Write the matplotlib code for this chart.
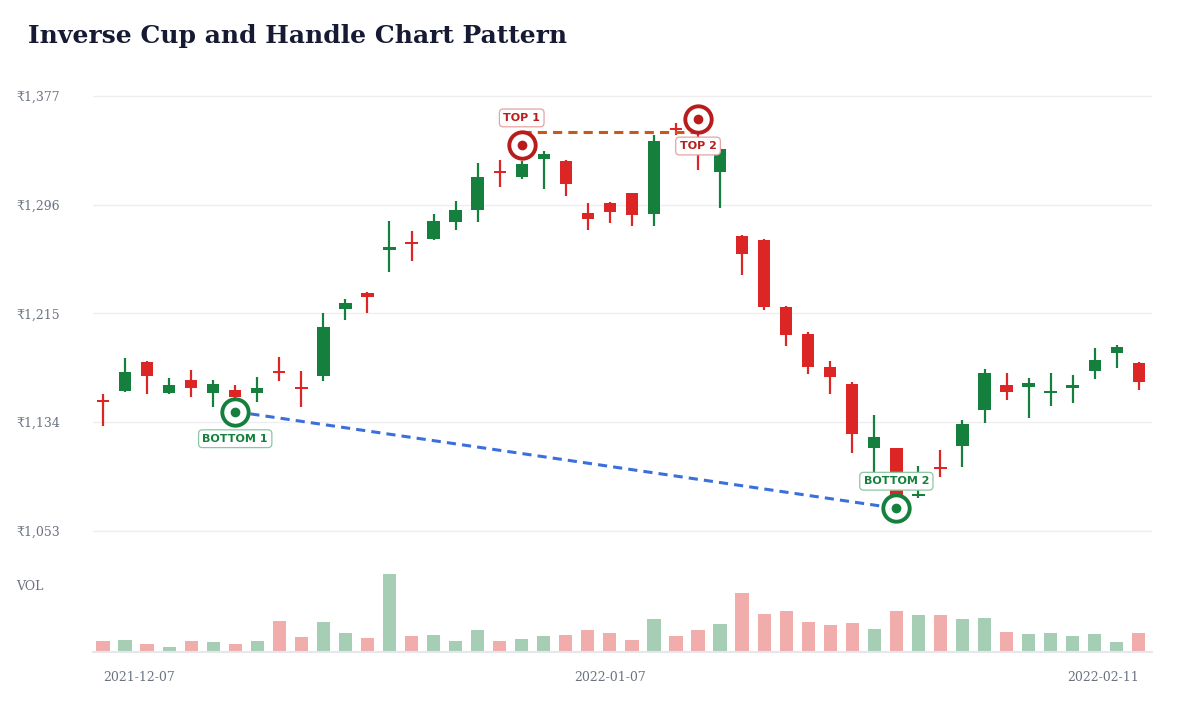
import matplotlib
matplotlib.use('Agg')
import matplotlib.pyplot as plt
import numpy as np
import pandas as pd

# daily OHLC (INR), 2021-12-07 .. 2022-02-11 (trading days)
opens = [1150.0, 1157.3, 1179.0, 1155.6, 1165.5, 1156.0, 1158.0, 1156.0, 1171.8, 1159.8,
         1168.7, 1218.1, 1230.0, 1262.3, 1267.8, 1270.3, 1283.4, 1292.1, 1320.4, 1316.4,
         1330.1, 1328.8, 1289.6, 1297.1, 1304.5, 1289.1, 1352.7, 1346.0, 1320.6, 1273.0,
         1269.7, 1220.1, 1199.7, 1174.9, 1162.3, 1115.0, 1114.6, 1079.3, 1100.2, 1116.5,
         1143.1, 1161.7, 1160.5, 1156.0, 1159.3, 1172.4, 1185.4, 1178.4]
highs = [1154.8, 1181.6, 1179.5, 1166.7, 1172.9, 1165.5, 1161.7, 1167.9, 1182.8, 1172.2,
         1215.1, 1225.8, 1230.8, 1283.9, 1276.7, 1288.9, 1299.0, 1326.9, 1329.3, 1328.8,
         1336.0, 1329.3, 1297.5, 1298.3, 1305.0, 1347.9, 1356.7, 1352.0, 1338.0, 1273.5,
         1270.2, 1220.6, 1201.0, 1179.8, 1163.7, 1139.4, 1115.0, 1101.4, 1113.3, 1135.7,
         1173.4, 1170.5, 1166.7, 1170.9, 1169.2, 1189.1, 1191.5, 1178.8]
lows = [1131.2, 1156.8, 1154.8, 1155.0, 1153.0, 1145.6, 1151.0, 1149.3, 1164.7, 1145.6,
        1164.9, 1210.2, 1215.6, 1246.1, 1254.3, 1270.0, 1277.2, 1283.4, 1309.4, 1314.9,
        1307.5, 1302.5, 1277.2, 1282.6, 1280.2, 1280.2, 1347.9, 1322.0, 1293.3, 1243.7,
        1217.6, 1190.8, 1169.7, 1155.0, 1110.9, 1096.0, 1076.0, 1077.4, 1093.0, 1100.9,
        1133.2, 1150.6, 1137.4, 1146.1, 1148.6, 1166.0, 1174.2, 1158.0]
closes = [1149.0, 1171.2, 1168.7, 1161.7, 1159.3, 1162.3, 1153.0, 1159.3, 1170.8, 1158.8,
          1204.7, 1223.0, 1227.5, 1264.8, 1266.8, 1283.9, 1292.1, 1316.9, 1319.4, 1326.3,
          1333.6, 1311.2, 1285.4, 1290.8, 1288.4, 1343.7, 1351.7, 1334.0, 1337.3, 1259.1,
          1220.1, 1199.0, 1175.4, 1167.9, 1125.0, 1123.2, 1080.0, 1080.3, 1099.2, 1132.5,
          1170.5, 1156.8, 1163.5, 1157.0, 1161.7, 1180.4, 1189.8, 1163.7]
# volume, thousand shares
volumes = [33, 36, 25, 14, 32, 29, 23, 32, 93, 45, 91, 56, 41, 233, 48, 50, 32, 66, 32, 38,
           49, 51, 65, 57, 37, 98, 47, 67, 83, 175, 114, 124, 90, 80, 86, 69, 122, 112, 111, 99,
           101, 60, 53, 56, 48, 55, 30, 57]

dates = pd.bdate_range('2021-12-07', '2022-02-11').drop(pd.Timestamp('2022-01-26'))
date_ticks = ['2021-12-07', '2022-01-07', '2022-02-11']
price_ticks = [1053, 1134, 1215, 1296, 1377]

# pattern points: (candle index, price)
top_idx = [19, 27]
top_val = [1340.5, 1359.9]
top_names = ['TOP 1', 'TOP 2']
bottom_idx = [6, 36]
bottom_val = [1141.9, 1069.9]
bottom_names = ['BOTTOM 1', 'BOTTOM 2']

GREEN = '#15803d'
RED = '#dc2626'
TOP_C = '#b91c1c'
GRAY = '#6b7280'

plt.rcParams['font.family'] = ['DejaVu Serif', 'DejaVu Sans']

o = np.array(opens); h = np.array(highs); l = np.array(lows); c = np.array(closes)
x = np.arange(len(o))
up = c >= o
colors = np.where(up, GREEN, RED)

fig = plt.figure(figsize=(12, 7.2), dpi=100)
ax = fig.add_axes([93/1200, 1 - 545/720, (1152 - 93)/1200, (545 - 80)/720])
axv = fig.add_axes([93/1200, 1 - 652/720, (1152 - 93)/1200, 87/720], sharex=ax)

# candles
ax.vlines(x, l, h, color=colors, lw=1.6, zorder=2)
ax.bar(x, np.maximum(np.abs(c - o), 1.6), bottom=np.minimum(o, c), width=0.56,
       color=colors, zorder=3)

# neckline across the tops, trendline across the bottoms
neck = np.mean(top_val)
ax.plot(top_idx, [neck, neck], color='#c65a1e', lw=2.2, ls=(0, (3, 2)), zorder=4)
ax.plot(bottom_idx, bottom_val, color='#3b6fdc', lw=2.2, ls=(0, (3, 2)), zorder=4)

def mark(idxs, vals, names, col, edge, offsets):
    ax.plot(idxs, vals, 'o', ms=19, mfc='white', mec=col, mew=2.8, zorder=5)
    ax.plot(idxs, vals, 'o', ms=6, color=col, zorder=6)
    for i, v, n, dy in zip(idxs, vals, names, offsets):
        ax.annotate(n, (i, v), xytext=(0, dy), textcoords='offset points',
                    ha='center', va='center', fontsize=8, fontweight='bold',
                    family='DejaVu Sans', color=col, zorder=7,
                    bbox=dict(boxstyle='round,pad=0.35', fc='white', ec=edge, lw=0.9))

mark(top_idx, top_val, top_names, TOP_C, '#e6a3a3', [19.5, -19.5])
mark(bottom_idx, bottom_val, bottom_names, GREEN, '#8cc7a1', [-19.5, 19.5])

ax.set_xlim(-0.4537, 47.6)
ax.set_ylim(1042.57, 1388.9)
ax.set_yticks(price_ticks)
ax.set_yticklabels([f'₹{v:,}' for v in price_ticks])
ax.tick_params(axis='y', length=0, pad=55.4, labelsize=9, labelcolor=GRAY)
for lab in ax.get_yticklabels():
    lab.set_ha('left')
ax.tick_params(axis='x', bottom=False, labelbottom=False)
ax.grid(axis='y', color='#eeeeee', lw=1)
ax.set_axisbelow(True)
for s in ax.spines.values():
    s.set_visible(False)

# volume
axv.bar(x, volumes, width=0.6, color=colors, alpha=0.38)
axv.set_ylim(0, 260)
axv.set_yticks([])
tick_pos = [dates.get_loc(pd.Timestamp(d)) for d in date_ticks]
axv.set_xticks(tick_pos)
axv.set_xticklabels(date_ticks)
axv.tick_params(axis='x', length=0, pad=14, labelsize=9, labelcolor=GRAY)
labs = axv.get_xticklabels()
labs[0].set_ha('left')
labs[-1].set_ha('right')
for side in ['top', 'left', 'right']:
    axv.spines[side].set_visible(False)
axv.spines['bottom'].set_color('#e5e7eb')
axv.spines['bottom'].set_linewidth(1.5)

fig.text(16/1200, 1 - 587/720, 'VOL', va='center', ha='left', fontsize=9, color=GRAY)
fig.text(28/1200, 1 - 36/720, 'Inverse Cup and Handle Chart Pattern', va='center', ha='left',
         fontsize=18, fontweight='bold', color='#161b33')

fig.savefig('out.png', dpi=100)
